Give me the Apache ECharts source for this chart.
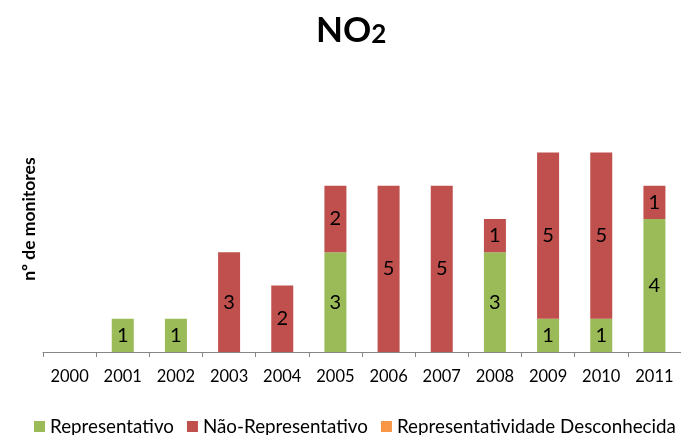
<!DOCTYPE html>
<html>
<head>
<meta charset="utf-8">
<script src="https://cdn.jsdelivr.net/npm/echarts@6/dist/echarts.min.js"></script>
<style>html,body{margin:0;padding:0;background:#fff;}#c{width:681px;height:435px;}</style>
</head>
<body>
<div id="c"></div>
<script>
const categories = ['2000','2001','2002','2003','2004','2005','2006','2007','2008','2009','2010','2011'];
const representativo = [0,1,1,0,0,3,0,0,3,1,1,4];
const naoRepresentativo = [0,0,0,3,2,2,5,5,1,5,5,1];
const desconhecida = [0,0,0,0,0,0,0,0,0,0,0,0];
const seriesNames = ['Representativo','Não-Representativo','Representatividade Desconhecida'];
const colors = ['#9BBB59','#C0504D','#F79646'];
const FONT = 'Lato';

const chart = echarts.init(document.getElementById('c'), null, {renderer:'canvas'});
const lbl = {
  show: true, position: 'inside', color: '#000', fontSize: 20, fontFamily: FONT,
  formatter: p => p.value ? String(p.value) : ''
};
function mk(name, data, color){
  return {name, type:'bar', stack:'t', data, barWidth:22, itemStyle:{color}, label:lbl};
}
chart.setOption({
  animation:false,
  color: colors,
  title:{
    text:'{a|NO}{b|2}', left:311, top:8,
    textStyle:{rich:{
      a:{fontSize:35,fontWeight:'bold',fontFamily:FONT,color:'#000'},
      b:{fontSize:26,fontWeight:'bold',fontFamily:FONT,color:'#000',verticalAlign:'bottom'}
    }}
  },
  legend:{
    data: seriesNames, left:29, top:412, itemWidth:11, itemHeight:11, itemGap:13,
    icon:'rect', textStyle:{fontSize:18.8, fontFamily:FONT, color:'#000', padding:[0,0,0,0]}
  },
  grid:{left:43, top:86, width:646, height:266, containLabel:false},
  xAxis:{
    type:'category', data:categories,
    axisLine:{lineStyle:{color:'#868686', width:1}},
    axisTick:{show:true, alignWithLabel:false, length:5, lineStyle:{color:'#868686'}},
    axisLabel:{interval:0, fontSize:16.5, fontFamily:FONT, color:'#000', margin:16}
  },
  yAxis:{
    type:'value', min:0, max:8,
    axisLine:{show:false}, axisTick:{show:false}, axisLabel:{show:false}, splitLine:{show:false},
    name:'nº de monitores', nameLocation:'middle', nameRotate:90, nameGap:5,
    nameTextStyle:{fontSize:17.5, fontWeight:'bold', fontFamily:FONT, color:'#000'}
  },
  series:[
    mk(seriesNames[0], representativo, colors[0]),
    mk(seriesNames[1], naoRepresentativo, colors[1]),
    mk(seriesNames[2], desconhecida, colors[2])
  ]
});
</script>
</body>
</html>
